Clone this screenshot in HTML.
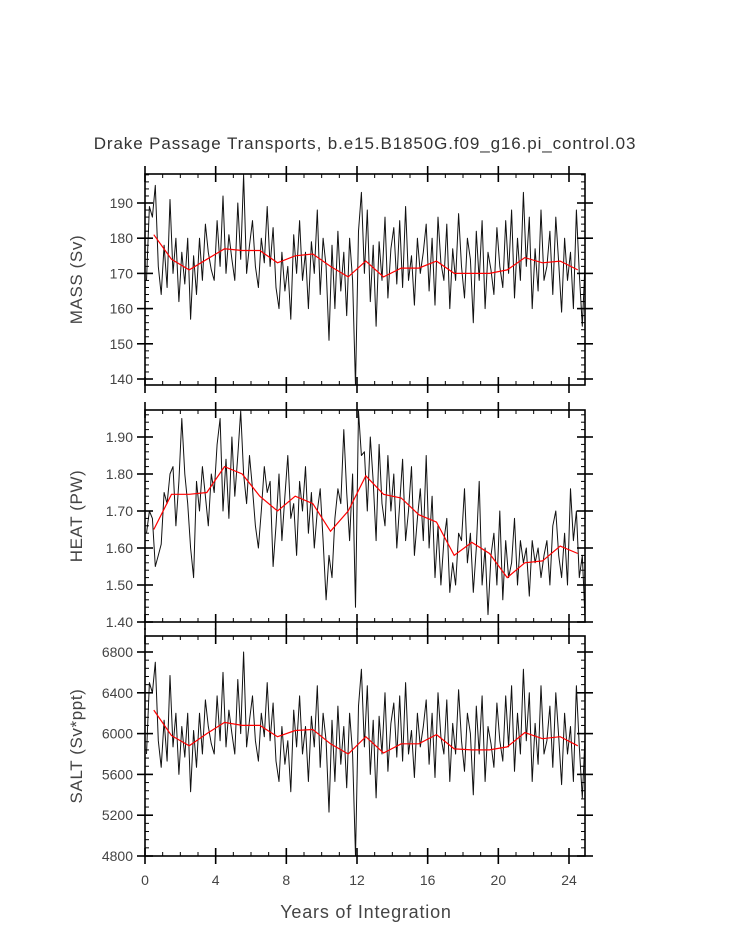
<!DOCTYPE html>
<html><head><meta charset="utf-8"><style>
html,body{margin:0;padding:0;background:#fff;}
svg{display:block;font-family:"Liberation Sans",sans-serif;}
</style></head><body>
<svg id="chart" width="733" height="945" viewBox="0 0 733 945" xmlns="http://www.w3.org/2000/svg">
<text x="365" y="149" text-anchor="middle" font-size="17" fill="#333" letter-spacing="0.9">Drake Passage Transports, b.e15.B1850G.f09_g16.pi_control.03</text>
<text x="366" y="918" text-anchor="middle" font-size="18" fill="#444" letter-spacing="0.8">Years of Integration</text>
</svg>
<script>
const massMonthly=[168,189,186,195,172,164,178,166,191,170,180,162,176,167,180,157,175,164,180,168,184,176,171,168,185,172,192,170,181,174,168,190,174,198,170,178,185,172,166,180,173,189,172,183,166,160,176,165,172,157,181,170,185,168,176,160,179,170,188,164,180,172,151,178,160,182,165,176,158,180,168,138,182,193,170,188,162,178,155,179,168,186,163,177,183,167,185,166,189,168,175,161,180,170,176,184,165,180,161,186,173,168,184,160,177,168,187,172,163,180,174,156,182,168,185,160,176,171,164,183,172,166,185,170,188,163,180,168,193,172,186,160,177,165,188,168,172,182,164,186,173,159,180,168,176,160,188,170,155,174];
const massAnnual=[181,174,171,174,177,176.5,176.5,173,175,175.5,172,169,173.5,169,171.5,171.5,173.5,170,170,170,171,174.5,173,173.5,171];
const heatMonthly=[1.64,1.70,1.68,1.55,1.58,1.61,1.75,1.72,1.80,1.82,1.66,1.78,1.95,1.80,1.72,1.60,1.52,1.78,1.70,1.82,1.74,1.66,1.80,1.75,1.88,1.95,1.70,1.84,1.68,1.90,1.74,1.85,1.97,1.80,1.72,1.85,1.76,1.66,1.60,1.70,1.82,1.75,1.78,1.55,1.66,1.80,1.62,1.74,1.85,1.68,1.72,1.58,1.78,1.70,1.82,1.64,1.75,1.60,1.70,1.76,1.62,1.46,1.58,1.52,1.68,1.76,1.72,1.92,1.75,1.62,1.80,1.44,1.97,1.85,1.86,1.70,1.90,1.78,1.62,1.88,1.72,1.66,1.85,1.70,1.80,1.60,1.72,1.84,1.62,1.70,1.82,1.58,1.68,1.76,1.62,1.85,1.60,1.74,1.52,1.66,1.50,1.62,1.68,1.48,1.56,1.50,1.64,1.62,1.76,1.56,1.64,1.48,1.60,1.78,1.50,1.60,1.42,1.58,1.64,1.50,1.70,1.46,1.62,1.52,1.56,1.68,1.50,1.62,1.56,1.60,1.47,1.62,1.56,1.60,1.52,1.58,1.62,1.50,1.66,1.70,1.58,1.52,1.64,1.50,1.76,1.62,1.70,1.52,1.58,1.40];
const heatAnnual=[1.65,1.745,1.745,1.75,1.82,1.80,1.74,1.70,1.74,1.72,1.645,1.70,1.795,1.745,1.735,1.69,1.67,1.58,1.615,1.585,1.52,1.56,1.565,1.605,1.585];
const saltMonthly=[5800,6500,6400,6700,5930,5670,6130,5730,6570,5870,6200,5600,6070,5770,6200,5430,6030,5670,6200,5800,6330,6070,5900,5800,6370,5930,6600,5870,6230,6000,5800,6530,6000,6800,5870,6130,6370,5930,5730,6200,5970,6500,5930,6300,5730,5530,6070,5700,5930,5430,6230,5870,6370,5800,6070,5530,6170,5870,6470,5670,6200,5930,5230,6130,5530,6270,5700,6070,5470,6200,5800,4800,6270,6630,5870,6470,5600,6130,5370,6170,5800,6400,5630,6100,6300,5770,6370,5730,6500,5800,6030,5570,6200,5870,6070,6330,5700,6200,5570,6400,5970,5800,6330,5530,6100,5800,6430,5930,5630,6200,6000,5400,6270,5800,6370,5530,6070,5900,5670,6300,5930,5730,6370,5870,6470,5630,6200,5800,6630,5930,6400,5530,6100,5700,6470,5800,5930,6270,5670,6400,5970,5500,6200,5800,6070,5530,6470,5870,5370,6000];
const saltAnnual=[6230,5980,5880,6000,6110,6080,6080,5970,6030,6040,5900,5800,5970,5810,5900,5900,5990,5850,5840,5840,5870,6010,5950,5970,5880];
const xTicks=[0,4,8,12,16,20,24];
const massTicks=[140,150,160,170,180,190];
const heatTicks=[1.40,1.50,1.60,1.70,1.80,1.90];
const heatTickLabels=["1.40","1.50","1.60","1.70","1.80","1.90"];
const saltTicks=[4800,5200,5600,6000,6400,6800];

const NS="http://www.w3.org/2000/svg";
const svg=document.getElementById('chart');
const X0=145,X1=585,PXY=(569-145)/24;
const xs=t=>X0+t*PXY;
function mk(tag,attrs,parent){const e=document.createElementNS(NS,tag);for(const k in attrs)e.setAttribute(k,attrs[k]);(parent||svg).appendChild(e);return e;}
const defs=mk('defs',{});

function panel(name,top,bot,vTop,vBot,ticks,labels,minorStep,monthly,annual,ylabel,showX){
  const g=mk('g',{});
  
  
  const cp=mk('clipPath',{id:'clip-'+name},defs);
  mk('rect',{x:X0,y:top,width:X1-X0,height:bot-top},cp);
  const ys=v=>bot-(v-vBot)/(vTop-vBot)*(bot-top);
  let d='';
  monthly.forEach((v,i)=>{const t=(i+0.5)/6;d+=(i?'L':'M')+xs(t).toFixed(1)+','+ys(v).toFixed(1);});
  const l=mk('path',{d:d,fill:'none',stroke:'#111','stroke-width':'1','stroke-linejoin':'round','clip-path':'url(#clip-'+name+')'},g);
  
  
  let d2='';
  annual.forEach((v,i)=>{d2+=(i?'L':'M')+xs(i+0.5).toFixed(1)+','+ys(v).toFixed(1);});
  const r=mk('path',{d:d2,fill:'none',stroke:'#f00','stroke-width':'1.2','clip-path':'url(#clip-'+name+')'},g);
  
  
  const f=mk('rect',{x:X0,y:top,width:X1-X0,height:bot-top,fill:'none',stroke:'#000','stroke-width':'1.6'},g);
  
  
  for(let t=0;t<=24;t++){
    const maj=t%4===0,x=xs(t);
    mk('line',{x1:x,x2:x,y1:top-(maj?8:0),y2:top+(maj?8:4),stroke:'#000','stroke-width':maj?1.6:1},g);
    mk('line',{x1:x,x2:x,y1:bot-(maj?8:4),y2:bot+(maj?8:0),stroke:'#000','stroke-width':maj?1.6:1},g);
  }
  const nMin=Math.ceil((vBot-1e-9)/minorStep);
  for(let k=nMin;k*minorStep<=vTop+1e-9;k++){
    const y=ys(k*minorStep);if(y<top||y>bot)continue;
    mk('line',{x1:X0,x2:X0+4,y1:y,y2:y,stroke:'#000','stroke-width':1},g);
    mk('line',{x1:X1-4,x2:X1,y1:y,y2:y,stroke:'#000','stroke-width':1},g);
  }
  ticks.forEach((v,i)=>{
    const y=ys(v);
    mk('line',{x1:X0-8,x2:X0+8,y1:y,y2:y,stroke:'#000','stroke-width':1.6},g);
    mk('line',{x1:X1-8,x2:X1+8,y1:y,y2:y,stroke:'#000','stroke-width':1.6},g);
    const tl=mk('text',{x:X0-12,y:y+5,'text-anchor':'end','font-size':'14',fill:'#444'},g);
    
    
    tl.textContent=labels[i];
  });
  const cy=(top+bot)/2;
  const yl=mk('text',{x:0,y:0,transform:`translate(82,${cy}) rotate(-90)`,'text-anchor':'middle','font-size':'17',fill:'#444','letter-spacing':'0.6'},g);
  
  
  yl.textContent=ylabel;
  if(showX){
    xTicks.forEach(t=>{
      const xl=mk('text',{x:xs(t),y:bot+29,'text-anchor':'middle','font-size':'14',fill:'#444'},g);
      
      
      xl.textContent=String(t);
    });
  }
}
const p1Scale=35.2/10;
panel('mass',174,385,140+(379-174)/p1Scale,140-(385-379)/p1Scale,massTicks,massTicks.map(String),2,massMonthly,massAnnual,'MASS (Sv)',false);
panel('heat',410,622,1.40+(622-410)/370,1.40,heatTicks,heatTickLabels,0.02,heatMonthly,heatAnnual,'HEAT (PW)',false);
panel('salt',636,856,4800+(856-636)/0.102,4800,saltTicks,saltTicks.map(String),80,saltMonthly,saltAnnual,'SALT (Sv*ppt)',true);
</script>
</body></html>
